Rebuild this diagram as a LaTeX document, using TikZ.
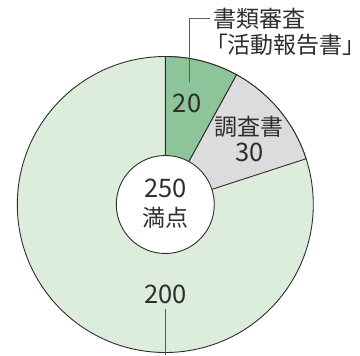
\documentclass[tikz,border=0pt]{standalone}
\usepackage{fontspec}
\setmainfont{Noto Sans CJK JP}
\newfontfamily\paltfont[RawFeature=+palt]{Noto Sans CJK JP}
\usepackage{xcolor}
\usetikzlibrary{positioning}
\definecolor{docgreen}{HTML}{8DC49A}
\definecolor{examgreen}{HTML}{DCEDDC}
\definecolor{surveygray}{HTML}{DCDCDF}
\definecolor{rimline}{HTML}{2E2E2E}
\definecolor{leadgray}{HTML}{5A5A5A}
\newcommand{\bignum}[1]{{\fontsize{25.5bp}{30bp}\selectfont #1}}

\begin{document}
\begin{tikzpicture}[x=1bp,y=1bp,
  rim/.style={draw=rimline,line width=0.9bp},
  leader/.style={draw=leadgray,line width=1bp},
  lbl/.style={inner sep=0pt,text=rimline,font=\fontsize{23bp}{27bp}\selectfont}]
  \useasboundingbox (0,0) rectangle (360,356);
  \coordinate (c) at (165.3,151.5);
  % ring: 200 + 30 + 20 of 250
  \filldraw[rim,fill=examgreen] (c) circle[radius=148bp];
  \filldraw[rim,fill=docgreen] (c) -- ++(90:148bp)
    arc[start angle=90,end angle=61.2,radius=148bp] -- cycle;
  \filldraw[rim,fill=surveygray] (c) -- ++(61.2:148bp)
    arc[start angle=61.2,end angle=18,radius=148bp] -- cycle;
  \filldraw[rim,fill=white] (c) circle[radius=49bp];
  % labels
  \node[lbl] (total) at (165.3,167.3) {\bignum{250}};
  \node[lbl] (fullmark) at (165.3,138) {満点};
  \node[lbl] (v20) at (187,252.5) {\bignum{20}};
  \node[lbl] (survey) at (249,229) {調査書};
  \node[lbl] (v30) at (249.5,204) {\bignum{30}};
  \node[lbl] (v200) at (165.3,62) {\bignum{200}};
  \node[lbl,anchor=west,inner xsep=4bp] (docs) at (209.5,337) {書類審査};
  \node[lbl,anchor=west] (report) at (216,311) {\paltfont「活動報告書」};
  % leaders
  \coordinate (docsfoot) at (189.3,273.7);
  \coordinate (axisfoot) at (165.3,1);
  \draw[leader] (docsfoot) |- (docs.west);
  \draw[leader] ([yshift=-5bp]v200.south) -- (axisfoot);
\end{tikzpicture}
\end{document}
